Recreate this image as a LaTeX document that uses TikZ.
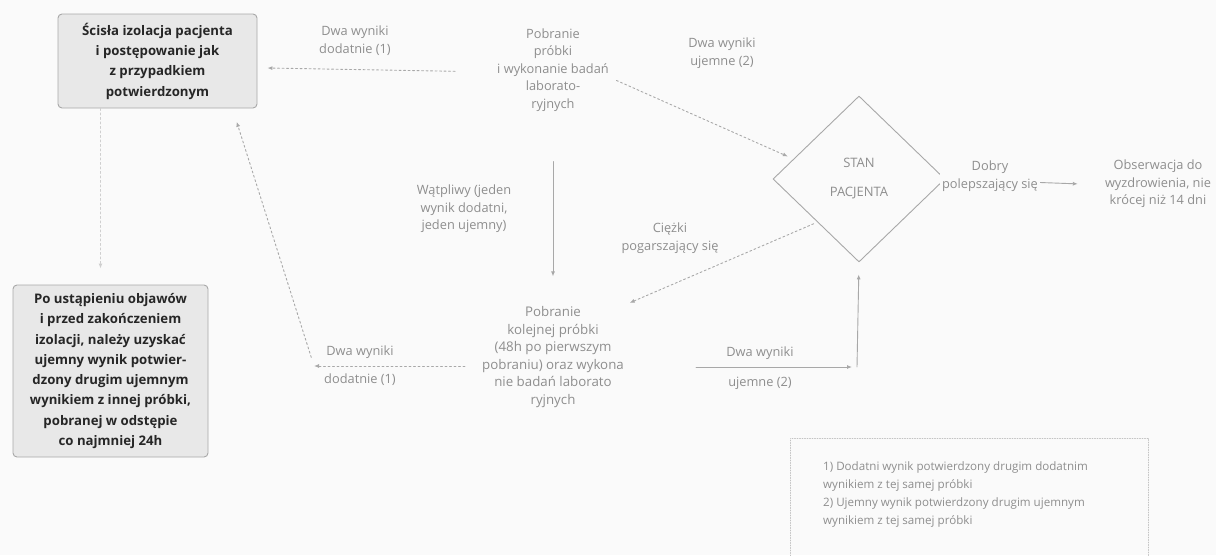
\documentclass[tikz,border=0pt]{standalone}
\usepackage{fontspec}
\setmainfont{Open Sans}
\usetikzlibrary{arrows.meta,calc,positioning,shapes.geometric}
\definecolor{skanInk}{HTML}{262626}
\definecolor{skanGrey}{HTML}{8E8E8E}
\definecolor{skanLine}{HTML}{A8A8A8}
\definecolor{skanFill}{HTML}{E8E8E8}
\definecolor{skanPaper}{HTML}{FAFAFA}

\begin{document}
\begin{tikzpicture}[x=1pt,y=-1pt,>={Latex[length=5pt,width=4pt]},line cap=round,line join=round]
\path[fill=skanPaper] (0,0) rectangle (1216,555);
\useasboundingbox (0,0) rectangle (1216,555);
\tikzset{box/.style={draw=skanLine,fill=skanFill,line width=0.9pt,rounded corners=4pt,text=skanInk,font=\bfseries\fontsize{13.2}{20.3}\selectfont,align=center,inner sep=4pt},
  lbl/.style={text=skanGrey,font=\fontsize{12.8}{17.5}\selectfont,align=center,inner sep=2pt},
  dotline/.style={draw=skanLine,line width=0.9pt,dash pattern=on 2pt off 2.5pt,->},
  fullline/.style={draw=skanLine,line width=0.9pt,->}}
% bloki
\node[box,minimum width=199pt,minimum height=94pt] (izolacja) at (157.5,61) {Ścisła izolacja pacjenta\\i postępowanie jak\\z przypadkiem\\potwierdzonym};
\node[box,minimum width=195pt,minimum height=172pt] (ustapienie) at (110.5,371) {Po ustąpieniu objawów\\i przed zakończeniem\\izolacji, należy uzyskać\\ujemny wynik potwier-\\dzony drugim ujemnym\\wynikiem z innej próbki,\\pobranej w odstępie\\co najmniej 24h};
\node[lbl] (pobranie) at (553,70) {Pobranie\\próbki\\i wykonanie badań\\laborato-\\ryjnych};
\node[diamond,draw=skanLine,line width=0.9pt,minimum width=172pt,minimum height=166pt,inner sep=0pt,text=skanGrey,font=\fontsize{13}{29}\selectfont,align=center] (stan) at (859,179) {STAN\\PACJENTA};
\node[lbl] (obserwacja) at (1158,184) {Obserwacja do\\wyzdrowienia, nie\\krócej niż 14 dni};
\node[lbl,font=\fontsize{13.3}{17.5}\selectfont] (kolejna) at (553,357) {Pobranie\\kolejnej próbki\\(48h po pierwszym\\pobraniu) oraz wykona\\nie badań laborato\\ryjnych};
\coordinate (zbieg) at (857,367);
\coordinate (zakret) at (314,366);
% strzalki
\draw[dotline,shorten <=40pt] ([yshift=-2pt]pobranie.west) -- ([xshift=10pt,yshift=-7pt]izolacja.east);
\node[lbl,font=\fontsize{12.8}{18}\selectfont] (dodatnie) at (355,41) {Dwa wyniki\\dodatnie (1)};
\draw[dotline,shorten <=6pt,shorten >=6pt] ([yshift=-8pt]pobranie.east) -- (stan.163);
\node[lbl] (ujemne) at (722,53) {Dwa wyniki\\ujemne (2)};
\draw[fullline,shorten <=48pt,shorten >=28pt] (pobranie.south) -- (kolejna.north);
\node[lbl] (watpliwy) at (464,209) {Wątpliwy (jeden\\wynik dodatni,\\jeden ujemny)};
\draw[dotline,shorten <=4pt,shorten >=4pt] (stan.226) -- (kolejna.north east);
\node[lbl] (ciezki) at (670,238) {Ciężki\\pogarszający się};
\draw[fullline,shorten >=3pt] (stan.east) -- ([xshift=-22pt]obserwacja.west);
\node[lbl,fill=skanPaper] (dobry) at (990,176) {Dobry\\polepszający się};
\draw[fullline,shorten <=70pt,shorten >=5pt] ([yshift=-10pt]kolejna.east) -- (zbieg);
\draw[fullline,shorten >=12pt] (zbieg) -- (stan.south);
\node[lbl,font=\fontsize{12.8}{30}\selectfont] (ujemne2) at (760,368) {Dwa wyniki\\ujemne (2)};
\draw[dotline,shorten <=15pt] ([yshift=-9pt]kolejna.west) -- (zakret);
\draw[dotline,shorten <=9pt,shorten >=14pt] (zakret) -- ([xshift=-25pt]izolacja.south east);
\node[lbl,font=\fontsize{12.8}{28}\selectfont] (dodatnie2) at (360,366) {Dwa wyniki\\dodatnie (1)};
\draw[dotline,draw=skanLine!55,shorten >=16pt] ([xshift=-10pt]ustapienie.north |- izolacja.south) -- ([xshift=-10pt]ustapienie.north);
% przypisy
\draw[draw=skanLine!70,line width=0.7pt,dash pattern=on 1pt off 1.5pt] (790,556) -- (790,438) -- (1148,438) -- (1148,556);
\node[text=skanGrey,font=\fontsize{11.6}{18}\selectfont,align=left,anchor=north west,inner sep=0pt] (przypisy) at (823,461) {1) Dodatni wynik potwierdzony drugim dodatnim\\wynikiem z tej samej próbki\\2) Ujemny wynik potwierdzony drugim ujemnym\\wynikiem z tej samej próbki};
\end{tikzpicture}
\end{document}
